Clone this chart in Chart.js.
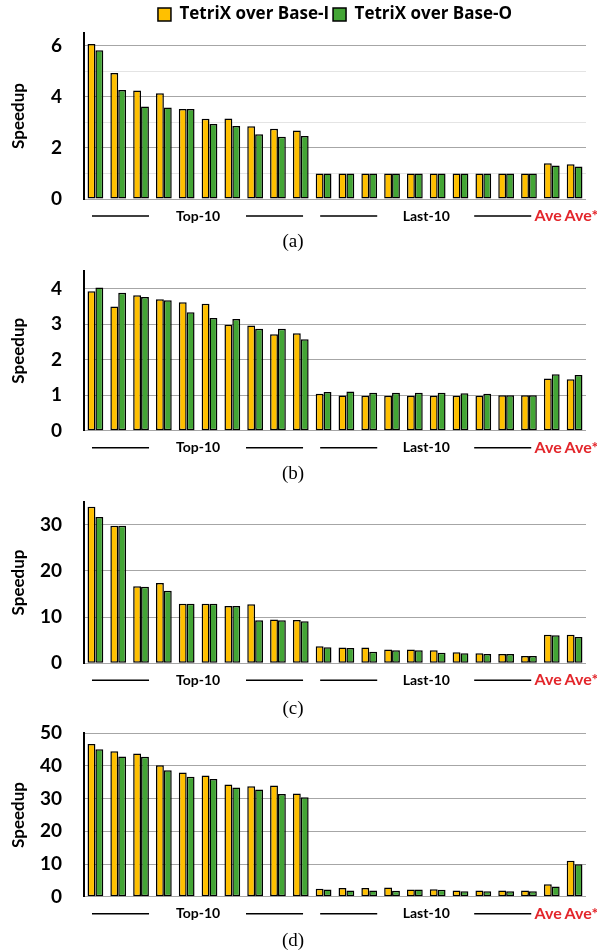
<!DOCTYPE html>
<html lang="en">
<head>
<meta charset="UTF-8">
<title>TetriX speedup</title>
<script src="https://cdn.jsdelivr.net/npm/chart.js@4"></script>
<style>
  body { margin: 0; background: #fff; }
  .wrap { position: relative; width: 597px; height: 952px; }
  .panel { position: absolute; left: 0; width: 597px; }
</style>
</head>
<body>
<div class="wrap">
  <div class="panel" style="top:0;height:256px"><canvas id="chartA"></canvas></div>
  <div class="panel" style="top:250px;height:240px"><canvas id="chartB"></canvas></div>
  <div class="panel" style="top:484px;height:240px"><canvas id="chartC"></canvas></div>
  <div class="panel" style="top:712px;height:240px"><canvas id="chartD"></canvas></div>
</div>

<script>
// categories: 10 top, 10 last, then the two averages
const categories = ['T1','T2','T3','T4','T5','T6','T7','T8','T9','T10',
                    'L1','L2','L3','L4','L5','L6','L7','L8','L9','L10','Ave','Ave*'];
const seriesNames = ['TetriX over Base-I', 'TetriX over Base-O'];
const groupNames = ['Top-10', 'Last-10'];
const groupSpans = [[0, 9], [10, 19]];

// (a)
const aBaseI = [6.07, 4.93, 4.25, 4.14, 3.52, 3.14, 3.15, 2.85, 2.75, 2.68,
                1.0, 1.0, 1.0, 1.0, 1.0, 1.0, 1.0, 1.0, 1.0, 1.0, 1.40, 1.36];
const aBaseO = [5.82, 4.27, 3.62, 3.58, 3.52, 2.94, 2.86, 2.54, 2.44, 2.47,
                1.0, 1.0, 1.0, 1.0, 1.0, 1.0, 1.0, 1.0, 1.0, 1.0, 1.31, 1.27];
const aTicks = [0, 1, 2, 3, 4, 5, 6];
// (b)
const bBaseI = [3.92, 3.49, 3.81, 3.70, 3.61, 3.57, 2.98, 2.96, 2.71, 2.74,
                1.04, 0.99, 0.98, 0.98, 0.98, 0.98, 0.98, 0.98, 1.0, 1.0, 1.47, 1.45];
const bBaseO = [4.03, 3.88, 3.76, 3.67, 3.33, 3.17, 3.14, 2.87, 2.87, 2.57,
                1.09, 1.10, 1.07, 1.07, 1.07, 1.07, 1.05, 1.04, 1.0, 1.0, 1.59, 1.57];
const bTicks = [0, 1, 2, 3, 4];
// (c)
const cBaseI = [33.9, 29.8, 16.7, 17.4, 12.9, 12.9, 12.4, 12.8, 9.5, 9.4,
                3.7, 3.4, 3.4, 3.0, 3.0, 2.8, 2.4, 2.2, 2.0, 1.6, 6.2, 6.2];
const cBaseO = [31.7, 29.8, 16.6, 15.7, 12.9, 12.9, 12.4, 9.3, 9.3, 9.1,
                3.5, 3.3, 2.5, 2.8, 2.8, 2.3, 2.2, 2.0, 2.0, 1.6, 6.1, 5.7];
const cTicks = [0, 5, 10, 15, 20, 25, 30, 35];
// (d)
const dBaseI = [46.7, 44.5, 43.8, 40.2, 38.0, 37.1, 34.3, 33.8, 34.0, 31.6,
                2.4, 2.7, 2.7, 2.8, 2.2, 2.3, 1.9, 1.9, 1.9, 1.9, 3.8, 11.0];
const dBaseO = [45.1, 42.9, 42.8, 38.7, 36.7, 36.0, 33.4, 32.8, 31.4, 30.4,
                2.2, 1.9, 1.9, 1.8, 2.2, 2.1, 1.7, 1.7, 1.7, 1.7, 3.1, 9.9];
const dTicks = [0, 5, 10, 15, 20, 25, 30, 35, 40, 45, 50];

const YELLOW = '#ffc000';
const GREEN = '#43a535';
const RED = '#e3262b';
const FONT = 'Lato';

// "Top-10" / "Last-10" with rules either side, and the red "Ave Ave*" under the x axis
const groupLabels = {
  id: 'groupLabels',
  afterDraw(chart) {
    const x = chart.scales.x;
    const ctx = chart.ctx;
    const y = chart.chartArea.bottom + 17;
    ctx.save();
    ctx.font = 'bold 14px ' + FONT;
    ctx.fillStyle = '#000';
    ctx.strokeStyle = '#000';
    ctx.lineWidth = 1.5;
    ctx.textAlign = 'center';
    ctx.textBaseline = 'middle';
    groupNames.forEach((name, i) => {
      const [s, e] = groupSpans[i];
      const mid = (s + e) / 2;
      ctx.fillText(name, x.getPixelForValue(mid), y);
      ctx.beginPath();
      ctx.moveTo(x.getPixelForValue(s - 0.15), y);
      ctx.lineTo(x.getPixelForValue(mid - 2.15), y);
      ctx.moveTo(x.getPixelForValue(mid + 2.1), y);
      ctx.lineTo(x.getPixelForValue(e + 0.1), y);
      ctx.stroke();
    });
    ctx.font = 'bold 16px ' + FONT;
    ctx.fillStyle = RED;
    ctx.textAlign = 'right';
    ctx.fillText(categories[20], x.getPixelForValue(20) + 10, y);
    ctx.textAlign = 'left';
    ctx.fillText(categories[21], x.getPixelForValue(21) - 10, y);
    ctx.restore();
  }
};

function offStep(v, step) {
  return Math.abs(v / step - Math.round(v / step)) > 1e-6;
}

function makeChart(id, yellow, green, o) {
  return new Chart(document.getElementById(id), {
    type: 'bar',
    data: {
      labels: categories,
      datasets: [
        { label: seriesNames[0], data: yellow, backgroundColor: YELLOW,
          borderColor: '#000', borderWidth: 1.5, borderSkipped: false },
        { label: seriesNames[1], data: green, backgroundColor: GREEN,
          borderColor: '#000', borderWidth: 1.5, borderSkipped: false }
      ]
    },
    options: {
      responsive: true,
      maintainAspectRatio: false,
      animation: false,
      layout: { padding: { top: o.padTop, right: 11, left: 0, bottom: 0 } },
      datasets: { bar: { categoryPercentage: 0.69, barPercentage: 1 } },
      plugins: {
        legend: o.legend ? {
          display: true,
          position: 'top',
          fullSize: false,
          labels: { boxWidth: 13, boxHeight: 13, padding: 4, color: '#000',
                    font: { family: 'Open Sans', size: 17, weight: 'bold' } }
        } : { display: false },
        title: {
          display: true, text: o.caption, position: 'bottom', color: '#000',
          font: { family: 'Liberation Serif', size: 19, weight: 'normal' },
          padding: { top: 0, bottom: o.capPad }
        },
        tooltip: { enabled: false }
      },
      scales: {
        x: {
          grid: { display: false },
          border: { display: false },
          ticks: { display: false },
          afterFit: s => { s.height = o.xH; }
        },
        y: {
          min: 0, max: o.max,
          afterBuildTicks: s => { s.ticks = o.ticks.map(v => ({ value: v })); },
          ticks: {
            padding: 22, color: '#000',
            font: { family: FONT, size: 19, weight: 'bold' },
            callback: v => (offStep(v, o.major) ? '' : v)
          },
          grid: {
            drawTicks: false, lineWidth: 1,
            color: c => offStep(c.tick.value, o.major) ? '#e4e4e4' : '#a6a6a6'
          },
          border: { color: '#000', width: 2 },
          title: {
            display: true, text: 'Speedup', color: '#000',
            font: { family: FONT, size: 17, weight: 'bold' },
            padding: { top: 8, bottom: 0 }
          },
          afterFit: s => {
            s.width = 84;
            // label padding would otherwise push the plot down
            s.paddingTop = 0;
            s.paddingBottom = 0;
          }
        }
      }
    },
    plugins: [groupLabels]
  });
}

makeChart('chartA', aBaseI, aBaseO, { legend: true, padTop: 2, max: 6.5, ticks: aTicks, major: 2,
  caption: '(a)', capPad: 2.6, xH: 31.6 });
makeChart('chartB', bBaseI, bBaseO, { legend: false, padTop: 20.7, max: 4.5, ticks: bTicks, major: 1,
  caption: '(b)', capPad: 4.6, xH: 31.9 });
makeChart('chartC', cBaseI, cBaseO, { legend: false, padTop: 17.7, max: 35, ticks: cTicks, major: 10,
  caption: '(c)', capPad: 3.6, xH: 34.3 });
makeChart('chartD', dBaseI, dBaseO, { legend: false, padTop: 21.3, max: 50, ticks: dTicks, major: 10,
  caption: '(d)', capPad: 0, xH: 32.5 });
</script>
</body>
</html>
